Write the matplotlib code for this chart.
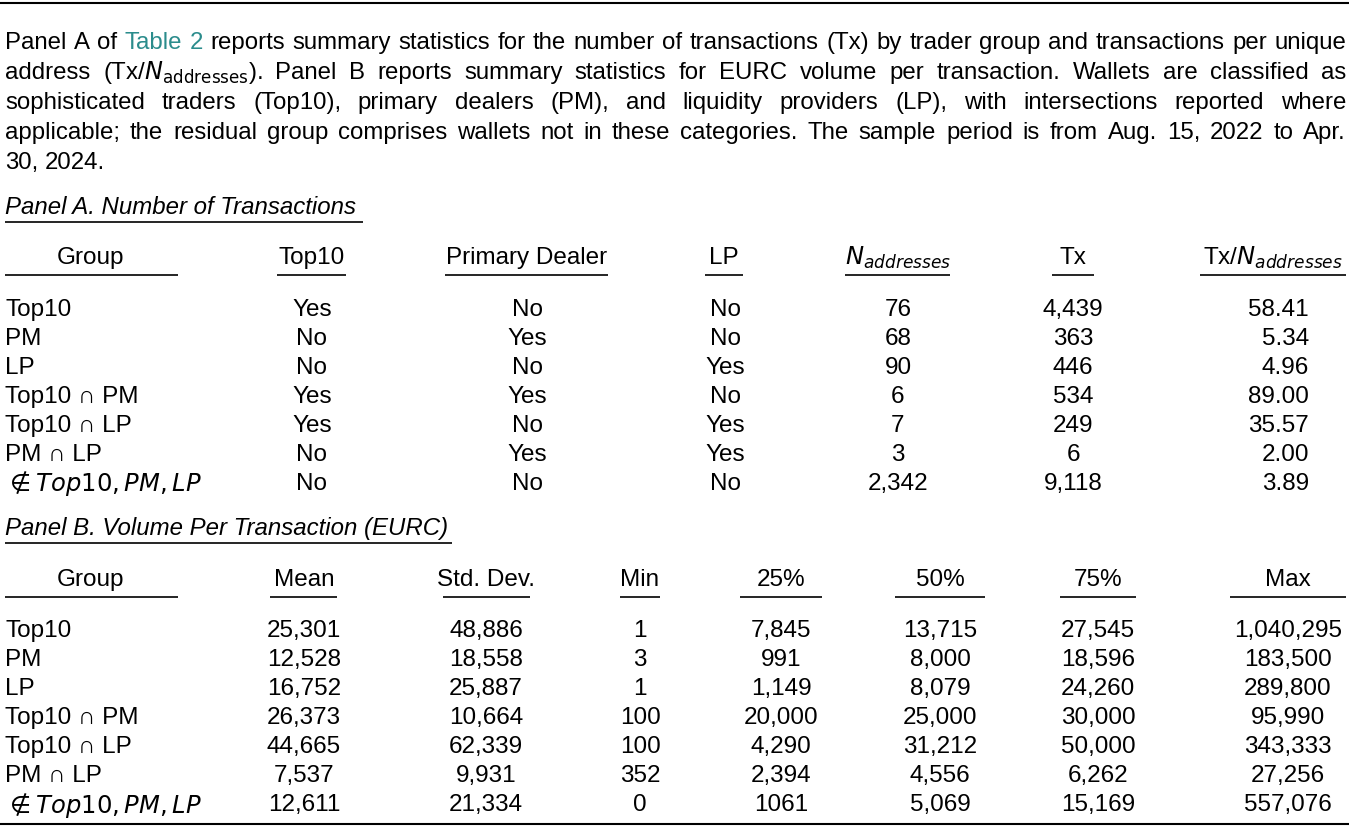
import numpy as np
import matplotlib.pyplot as plt

plt.rcParams["font.family"] = ["Liberation Sans", "DejaVu Sans"]
plt.rcParams["mathtext.fontset"] = "dejavusans"

FS = 17.5
TEAL = "#2b8c8c"

PARAGRAPH = [
    "Panel A of [Table 2] reports summary statistics for the number of transactions (Tx) by trader group and transactions per unique",
    r"address (Tx/$N_{\mathrm{addresses}}$). Panel B reports summary statistics for EURC volume per transaction. Wallets are classified as",
    "sophisticated traders (Top10), primary dealers (PM), and liquidity providers (LP), with intersections reported where",
    "applicable; the residual group comprises wallets not in these categories. The sample period is from Aug. 15, 2022 to Apr.",
    "30, 2024.",
]

groups = ["Top10", "PM", "LP", "Top10 ∩ PM", "Top10 ∩ LP", "PM ∩ LP", r"$\notin Top10, PM, LP$"]

# Panel A
top10 = ["Yes", "No", "No", "Yes", "Yes", "No", "No"]
dealer = ["No", "Yes", "No", "Yes", "No", "Yes", "No"]
lp = ["No", "No", "Yes", "No", "Yes", "Yes", "No"]
n_addr = ["76", "68", "90", "6", "7", "3", "2,342"]
tx = ["4,439", "363", "446", "534", "249", "6", "9,118"]
tx_per = ["58.41", "5.34", "4.96", "89.00", "35.57", "2.00", "3.89"]

# Panel B
mean = ["25,301", "12,528", "16,752", "26,373", "44,665", "7,537", "12,611"]
std = ["48,886", "18,558", "25,887", "10,664", "62,339", "9,931", "21,334"]
vmin = ["1", "3", "1", "100", "100", "352", "0"]
p25 = ["7,845", "991", "1,149", "20,000", "4,290", "2,394", "1061"]
p50 = ["13,715", "8,000", "8,079", "25,000", "31,212", "4,556", "5,069"]
p75 = ["27,545", "18,596", "24,260", "30,000", "50,000", "6,262", "15,169"]
vmax = ["1,040,295", "183,500", "289,800", "95,990", "343,333", "27,256", "557,076"]

fig = plt.figure(figsize=(13.49, 8.27), dpi=100)
ax = fig.add_axes([0, 0, 1, 1])
ax.set_xlim(0, 1349)
ax.set_ylim(827, 0)
ax.axis("off")
renderer = fig.canvas.get_renderer()


def width_of(s, fs):
    t = ax.text(0, 0, s, fontsize=fs)
    w = t.get_window_extent(renderer).width
    t.remove()
    return w


def line(x0, x1, y, lw=1.2):
    ax.plot([x0, x1], [y, y], color="black", linewidth=lw, solid_capstyle="butt")


def split_words(text):
    words = []
    for w in text.replace("[Table 2]", "\x01Table \x012").split(" "):
        words.append((w.lstrip("\x01"), TEAL if w.startswith("\x01") else "black"))
    return words


# shrink the paragraph font until the longest line fits with normal spacing
pfs = FS
while width_of(PARAGRAPH[0].replace("[", "").replace("]", ""), pfs) > 1330:
    pfs -= 0.25


def para_line(text, y, justify=True, left=5, right=1346):
    words = split_words(text)
    widths = [width_of(w, pfs) for w, _ in words]
    gap = width_of("a a", pfs) - width_of("aa", pfs)
    if justify and len(words) > 1:
        gap = (right - left - sum(widths)) / (len(words) - 1)
    x = left
    for (w, c), wd in zip(words, widths):
        ax.text(x, y, w, fontsize=pfs, color=c, va="center", ha="left")
        x += wd + gap


line(0, 1349, 3, lw=1.5)
for i, txt in enumerate(PARAGRAPH):
    para_line(txt, 43 + i * 30, justify=i < 4)


def panel(title, title_y, title_w, headers, header_y, columns, row_y0):
    ax.text(5, title_y, title, fontsize=pfs, style="italic", va="center")
    line(5, title_w, title_y + 15)
    for label, x, x0, x1 in headers:
        ax.text(x, header_y, label, fontsize=FS, ha="center", va="center")
        line(x0, x1, header_y + 17)
    for r in range(len(groups)):
        y = row_y0 + r * 29
        ax.text(5, y, groups[r], fontsize=FS, va="center", ha="left")
        for values, x, ha in columns:
            ax.text(x, y, values[r], fontsize=FS, va="center", ha=ha)


panel("Panel A. Number of Transactions", 207, 363,
      [("Group", 91, 5, 178), ("Top10", 312, 277, 346), ("Primary Dealer", 527, 445, 608),
       ("LP", 724, 705, 743), (r"$N_{addresses}$", 898, 845, 950), ("Tx", 1073, 1052, 1094),
       (r"Tx/$N_{addresses}$", 1273, 1200, 1346)],
      258,
      [(top10, 312, "center"), (dealer, 527, "center"), (lp, 725, "center"),
       (n_addr, 898, "center"), (tx, 1073, "center"), (tx_per, 1309, "right")],
      310)

panel("Panel B. Volume Per Transaction (EURC)", 528, 452,
      [("Group", 91, 5, 178), ("Mean", 304, 270, 337), ("Std. Dev.", 486, 443, 530),
       ("Min", 640, 620, 660), ("25%", 781, 740, 822), ("50%", 940, 895, 985),
       ("75%", 1098, 1060, 1136), ("Max", 1288, 1230, 1346)],
      580,
      [(mean, 304, "center"), (std, 486, "center"), (vmin, 640, "center"),
       (p25, 781, "center"), (p50, 940, "center"), (p75, 1098, "center"),
       (vmax, 1288, "center")],
      631)

line(0, 1349, 824, lw=1.5)

fig.savefig("out.png", dpi=100)
